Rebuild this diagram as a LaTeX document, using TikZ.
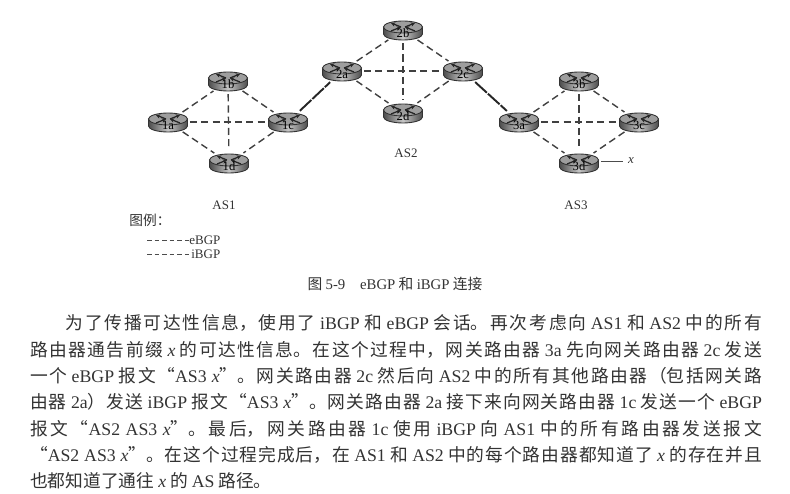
\documentclass[tikz,border=0pt]{standalone}
\usepackage{fontspec}
\setmainfont{Liberation Serif}
\newfontfamily\cjk{Noto Sans CJK SC}
\usetikzlibrary{shapes.geometric, arrows.meta}
\XeTeXlinebreaklocale "zh"
\XeTeXlinebreakskip=0pt plus 3pt
\newcommand{\en}[1]{{\rmfamily #1}}
\definecolor{inkgray}{gray}{0.2}
\tikzset{
    routerbody/.style={draw=black!80, line width=0.5pt, left color=black!70, right color=black!70, middle color=black!22},
    routertop/.style={draw=black!80, line width=0.5pt, fill=black!38},
    router/.style={ellipse, inner sep=0pt, outer sep=1.5pt, minimum width=0.78cm, minimum height=0.42cm,
        font=\fontsize{7.2}{7}\selectfont, text=black, text height=0.30cm, text depth=0pt},
    ibgp/.style={dash pattern=on 4pt off 2.4pt, line width=0.8pt, draw=black!75},
    ebgp/.style={dash pattern=on 9pt off 0.8pt, line width=1.1pt, draw=black!85},
    keyline/.style={dash pattern=on 2.6pt off 1.7pt, line width=0.45pt, draw=black!70},
    routermark/.style={line width=0.7pt, draw=black!85, -{Stealth[length=2.4pt, width=2.4pt]}},
    plainlabel/.style={font=\fontsize{7.4}{9}\selectfont, text=inkgray, inner sep=0pt},
    bodytext/.style={font=\fontsize{10.1}{15}\selectfont\cjk, text=inkgray, inner sep=0pt,
        text width=14.64cm, align=justify},
}
% name, x, y, label
\newcommand{\router}[4]{
    \draw[routerbody] (#2-19.5,#3-3) -- (#2-19.5,#3+4) arc[start angle=180, end angle=0, x radius=19.5, y radius=6]
        -- (#2+19.5,#3-3) -- cycle;
    \draw[routertop] (#2,#3-3) ellipse[x radius=19.5, y radius=6];
    \draw[routermark] (#2-2,#3-3) -- (#2-12,#3-7);
    \draw[routermark] (#2+2,#3-3) -- (#2+12,#3-7);
    \draw[routermark] (#2-12,#3+1) -- (#2-2,#3-3);
    \draw[routermark] (#2+12,#3+1) -- (#2+2,#3-3);
    \node[router] (#1) at (#2,#3) {#4};
}
\begin{document}
\begin{tikzpicture}[x=0.02cm, y=-0.02cm]
    \useasboundingbox (0,0) rectangle (790,493);

    % AS1
    \router{r1a}{168}{122}{1a}
    \router{r1b}{228}{81}{1b}
    \router{r1c}{288}{122}{1c}
    \router{r1d}{229}{163}{1d}
    % AS2
    \router{r2a}{342}{71}{2a}
    \router{r2b}{403}{30}{2b}
    \router{r2c}{463}{71}{2c}
    \router{r2d}{403}{113}{2d}
    % AS3
    \router{r3a}{519}{122}{3a}
    \router{r3b}{579}{81}{3b}
    \router{r3c}{639}{122}{3c}
    \router{r3d}{579}{163}{3d}

    % iBGP sessions
    \draw[ibgp] (r1a) -- (r1b);
    \draw[ibgp] (r1a) -- (r1c);
    \draw[ibgp] (r1a) -- (r1d);
    \draw[ibgp] (r1b) -- (r1c);
    \draw[ibgp] (r1b) -- (r1d);
    \draw[ibgp] (r1c) -- (r1d);
    \draw[ibgp] (r2a) -- (r2b);
    \draw[ibgp] (r2a) -- (r2c);
    \draw[ibgp] (r2a) -- (r2d);
    \draw[ibgp] (r2b) -- (r2c);
    \draw[ibgp] (r2b) -- (r2d);
    \draw[ibgp] (r2c) -- (r2d);
    \draw[ibgp] (r3a) -- (r3b);
    \draw[ibgp] (r3a) -- (r3c);
    \draw[ibgp] (r3a) -- (r3d);
    \draw[ibgp] (r3b) -- (r3c);
    \draw[ibgp] (r3b) -- (r3d);
    \draw[ibgp] (r3c) -- (r3d);

    % eBGP sessions
    \draw[ebgp] (r1c) -- (r2a);
    \draw[ebgp] (r2c) -- (r3a);

    % Prefix
    \node[plainlabel, font=\fontsize{7.4}{9}\selectfont\itshape, inner xsep=3pt] (prefix) at (631,161) {x};
    \draw[line width=0.45pt, draw=black!70] (r3d.east |- prefix.west) -- (prefix.west);

    % Group names
    \node[plainlabel] (as1) at (224,205) {AS1};
    \node[plainlabel] (as2) at (406,153) {AS2};
    \node[plainlabel] (as3) at (576,205) {AS3};

    % Legend
    \node[plainlabel, font=\fontsize{7.8}{9}\selectfont\cjk] (legend) at (150,220) {图例：};
    \node[plainlabel, anchor=west] (ekey) at (189,240) {eBGP};
    \node[plainlabel, anchor=west] (ikey) at (191,254) {iBGP};
    \coordinate (estart) at (147,240);
    \coordinate (istart) at (147,254);
    \draw[keyline] (estart) -- (ekey);
    \draw[keyline] (istart) -- (ikey);

    % Caption
    \node[plainlabel, font=\fontsize{8.4}{9}\selectfont\cjk] (caption) at (395,284)
        {图 \en{5-9}\quad \en{eBGP} 和 \en{iBGP} 连接};

    % Text under the figure
    \node[bodytext] (para) at (396,402) {\hspace*{2em}为了传播可达性信息，使用了 \en{iBGP} 和 \en{eBGP} 会话。再次考虑向 \en{AS1} 和 \en{AS2} 中的所有\linebreak
路由器通告前缀 \en{\itshape x} 的可达性信息。在这个过程中，网关路由器 \en{3a} 先向网关路由器 \en{2c} 发送\linebreak
一个 \en{eBGP} 报文“\en{AS3 \itshape x}”。网关路由器 \en{2c} 然后向 \en{AS2} 中的所有其他路由器（包括网关路\linebreak
由器 \en{2a}）发送 \en{iBGP} 报文“\en{AS3 \itshape x}”。网关路由器 \en{2a} 接下来向网关路由器 \en{1c} 发送一个 \en{eBGP}\linebreak
报文“\en{AS2 AS3 \itshape x}”。最后，网关路由器 \en{1c} 使用 \en{iBGP} 向 \en{AS1} 中的所有路由器发送报文\linebreak
“\en{AS2 AS3 \itshape x}”。在这个过程完成后，在 \en{AS1} 和 \en{AS2} 中的每个路由器都知道了 \en{\itshape x} 的存在并且\linebreak
也都知道了通往 \en{\itshape x} 的 \en{AS} 路径。};
\end{tikzpicture}
\end{document}
